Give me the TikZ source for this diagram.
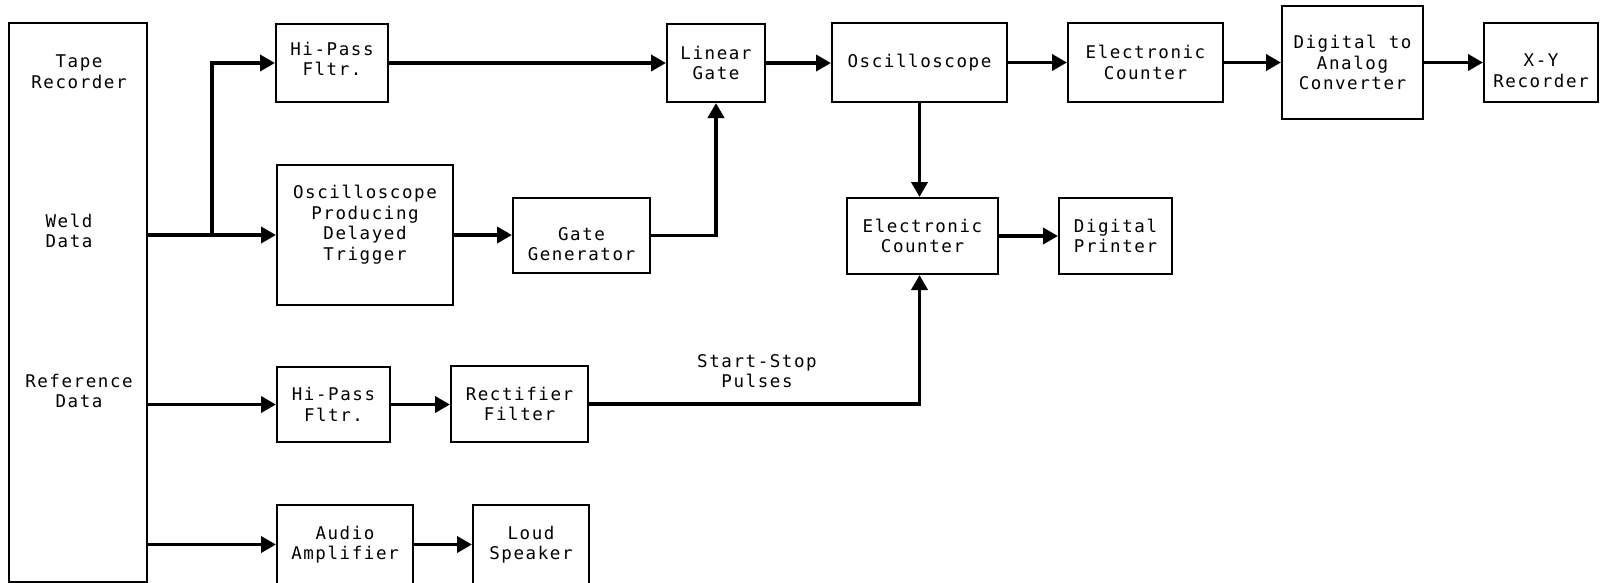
\documentclass[tikz,border=0pt]{standalone}
\usepackage{fontspec}
\setmainfont{DejaVu Sans Mono}[LetterSpace=9]
\usetikzlibrary{arrows.meta}
\begin{document}
\begin{tikzpicture}[x=1pt,y=-1pt,
  lab/.style={inner sep=0pt, align=center, font=\fontsize{17.5}{20.5}\selectfont},
  box/.style={lab, draw, line width=2pt, rectangle},
  conn/.style={line width=3.8pt, -{Triangle[length=15pt,width=16pt]}}]
\useasboundingbox (0,0) rectangle (1600,582);
% tape recorder
\node[box, minimum width=138pt, minimum height=559pt] (tape) at (78,302.5) {};
\node[lab] (tapetxt) at (79,71.5) {Tape\\Recorder};
\node[lab] (weld) at (69,231) {Weld\\Data};
\node[lab] (refd) at (79,391) {Reference\\Data};
% boxes
\node[box, minimum width=112pt, minimum height=78pt, text depth=8pt] (hp1) at (332,63) {Hi-Pass\\Fltr.};
\node[box, minimum width=176pt, minimum height=140pt, text depth=24pt] (prod) at (365,235) {Oscilloscope\\Producing\\Delayed\\Trigger};
\node[box, minimum width=137pt, minimum height=75pt, text height=50pt, text depth=0pt] (gg) at (581.5,235.5) {Gate\\Generator};
\node[box, minimum width=98pt, minimum height=78pt] (lg) at (716,63) {Linear\\Gate};
\node[box, minimum width=175pt, minimum height=79pt] (osc) at (919.5,62.5) {Oscilloscope};
\node[box, minimum width=155pt, minimum height=79pt] (ec1) at (1145.5,62.5) {Electronic\\Counter};
\node[box, minimum width=141pt, minimum height=113pt] (dac) at (1352.5,62.5) {Digital to\\Analog\\Converter};
\node[box, minimum width=114pt, minimum height=79pt, text height=49pt, text depth=0pt] (xy) at (1541,62.5) {X-Y\\Recorder};
\node[box, minimum width=151pt, minimum height=76pt] (ec2) at (922.5,236) {Electronic\\Counter};
\node[box, minimum width=113pt, minimum height=76pt] (dp) at (1115.5,236) {Digital\\Printer};
\node[box, minimum width=113pt, minimum height=75pt] (hp2) at (333.5,404.5) {Hi-Pass\\Fltr.};
\node[box, minimum width=137pt, minimum height=76pt] (rf) at (519.5,404) {Rectifier\\Filter};
\node[box, minimum width=136pt, minimum height=79pt] (aa) at (345,544.5) {Audio\\Amplifier};
\node[box, minimum width=116pt, minimum height=79pt] (ls) at (531,544.5) {Loud\\Speaker};
\node[lab] (ssp) at (757,371) {Start-Stop\\Pulses};
% connectors
\coordinate (br) at (212,235);
\draw[conn] (tape.east |- prod.west) -- (prod.west);
\draw[conn] (br) |- (hp1.west);
\draw[conn] (hp1.east) -- (lg.west);
\draw[conn] (prod.east) -- (prod.east -| gg.west);
\draw[conn] (gg.east) -| (lg.south);
\draw[conn] (lg.east) -- (lg.east -| osc.west);
\draw[conn] (osc.east) -- (ec1.west);
\draw[conn] (ec1.east) -- (dac.west);
\draw[conn] (dac.east) -- (xy.west);
\draw[conn] (osc.south) -- (osc.south |- ec2.north);
\draw[conn] (ec2.east) -- (dp.west);
\draw[conn] (tape.east |- hp2.west) -- (hp2.west);
\draw[conn] (hp2.east) -- (hp2.east -| rf.west);
\draw[conn] (rf.east) -| (osc.south |- ec2.south);
\draw[conn] (tape.east |- aa.west) -- (aa.west);
\draw[conn] (aa.east) -- (ls.west);
\end{tikzpicture}
\end{document}
